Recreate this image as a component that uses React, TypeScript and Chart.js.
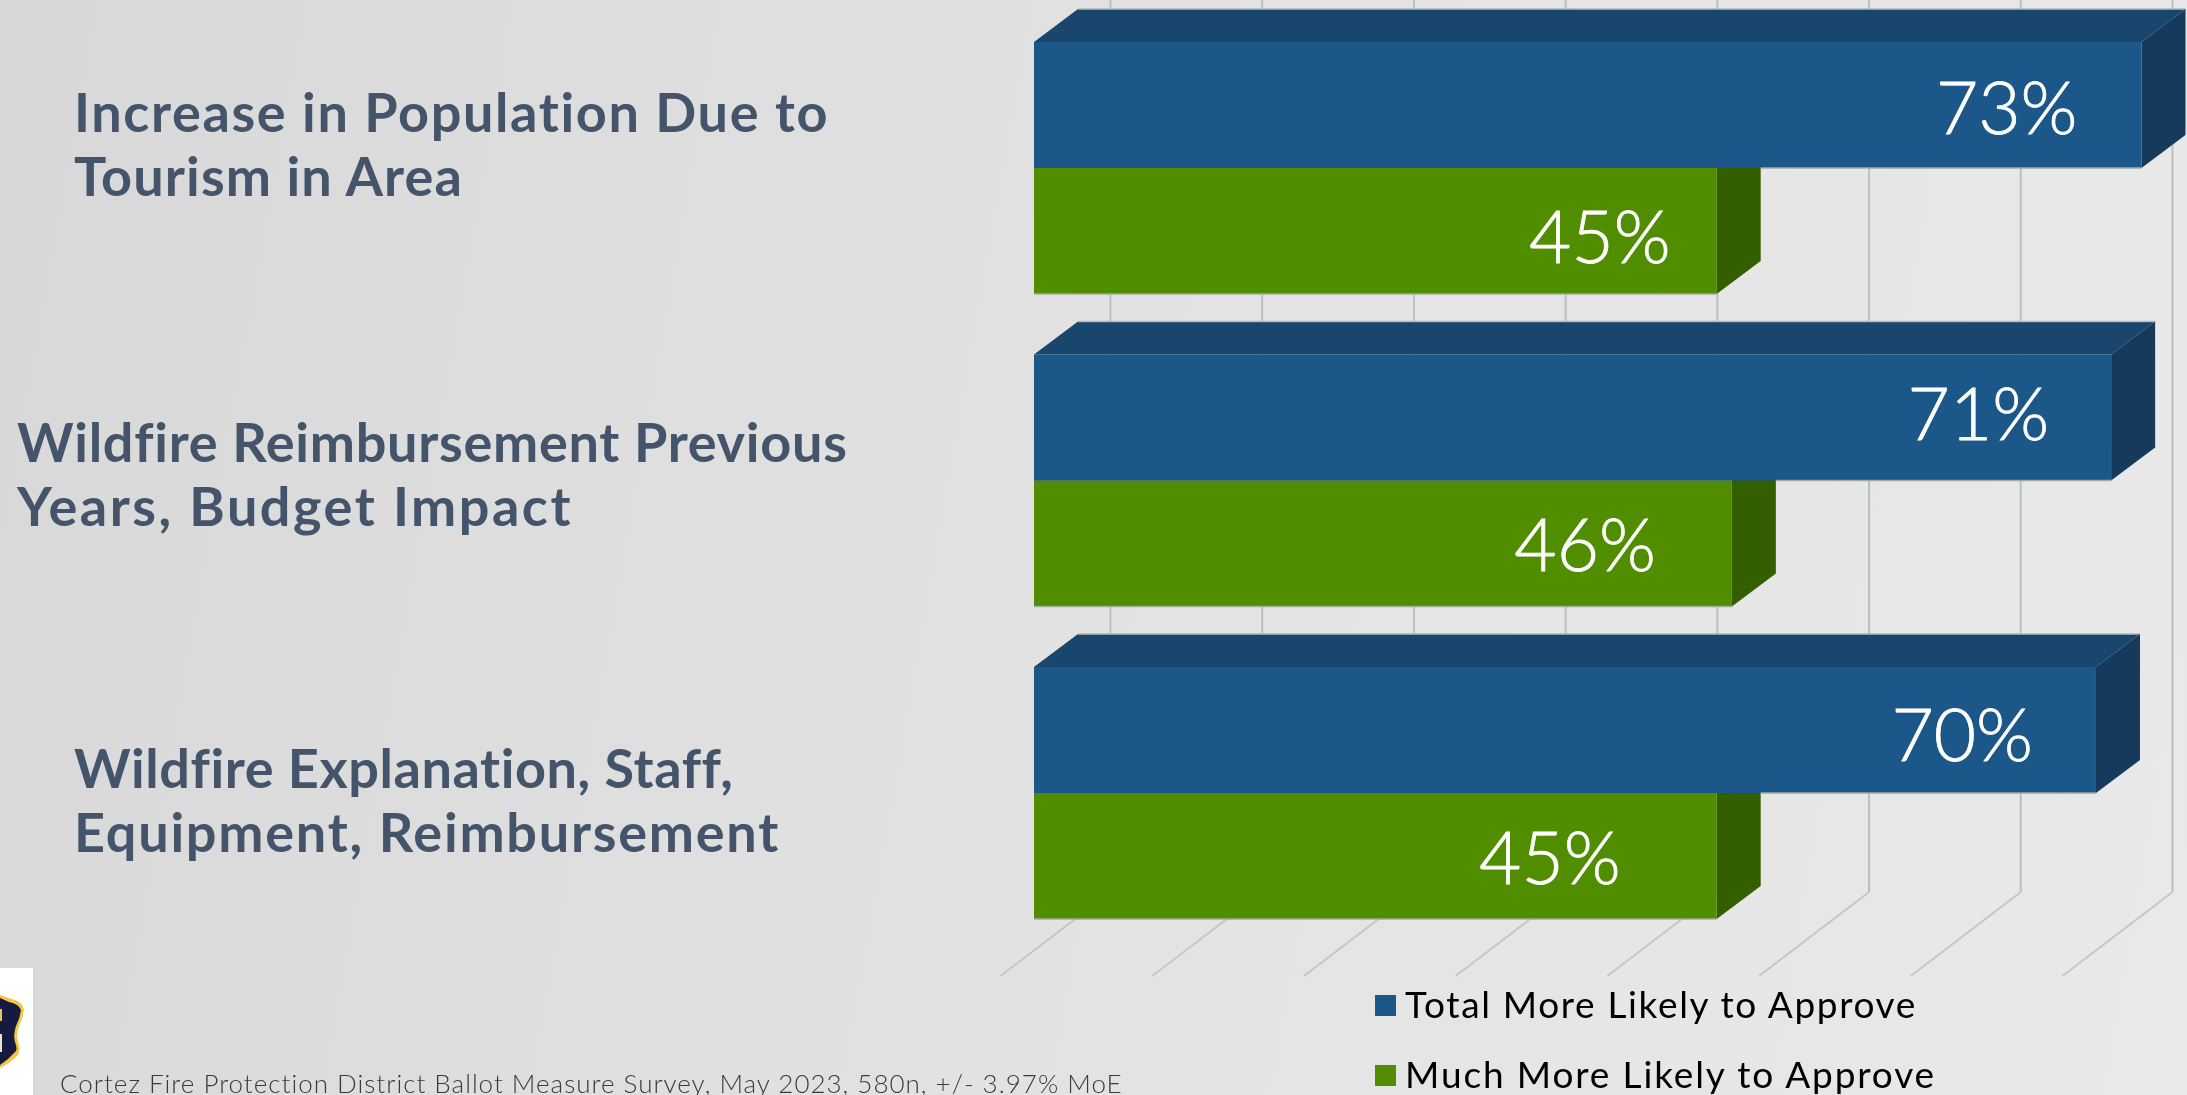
import React, { useEffect, useRef } from "react";
import { Chart, registerables } from "chart.js";

Chart.register(...registerables);

const categories = [
  ["Increase in Population Due to", "Tourism in Area"],
  ["Wildfire Reimbursement Previous", "Years, Budget Impact"],
  ["Wildfire Explanation, Staff,", "Equipment, Reimbursement"],
];
const totalMoreLikely = [73, 71, 70];
const muchMoreLikely = [45, 46, 45];
const seriesNames = ["Total More Likely to Approve", "Much More Likely to Approve"];
const footnote = "Cortez Fire Protection District Ballot Measure Survey, May 2023, 580n, +/- 3.97% MoE";

const W = 2187;
const H = 1095;
const BLUE = ["#1B5788", "#18466D", "#153A5B"];
const GREEN = ["#508E00", "#46790A", "#345F00"];
const DEPTH_X = 44;
const DEPTH_Y = 33;
const GRID_SHIFT = 76.5;
const GRID_FLOOR_Y = 892;
const FLOOR_DX = 110;
const FLOOR_END_Y = 976;
const CAT_X = [74, 17, 74];
const CAT_Y = [132, 462, 788];
const CAT_LINE = 64;
const CAT_WIDTHS = [
  [756, 389],
  [830, 556],
  [658, 706],
];
const LEGEND_WIDTHS = [512, 531];
const FOOT_WIDTH = 1063;
const LABEL_INSET = [
  [64, 62, 63],
  [46, 76, 96],
];
const LABEL_DY = [
  [5, -1, 7],
  [8, 4, 4],
];

function fitText(ctx: any, text: string, x: number, y: number, width: number) {
  ctx.letterSpacing = "0px";
  ctx.fontKerning = "normal";
  const measured = ctx.measureText(text).width;
  ctx.letterSpacing = (width - measured) / text.length + "px";
  ctx.fillText(text, x, y);
  ctx.letterSpacing = "0px";
}

const threeD = {
  id: "threeD",
  beforeDatasetsDraw(chart: any) {
    const { ctx, scales } = chart;
    const x = scales.x;
    ctx.save();
    x.ticks
      .filter((t: any) => t.value % 10 === 0)
      .forEach((t: any) => {
        const gx = x.getPixelForValue(t.value) + GRID_SHIFT;
        ctx.strokeStyle = "#bcbfc2";
        ctx.lineWidth = 2;
        ctx.beginPath();
        ctx.moveTo(gx, 0);
        ctx.lineTo(gx, GRID_FLOOR_Y);
        ctx.stroke();
        ctx.strokeStyle = "#c6c6c6";
        ctx.lineWidth = 2;
        ctx.beginPath();
        ctx.moveTo(gx, GRID_FLOOR_Y);
        ctx.lineTo(gx - FLOOR_DX, FLOOR_END_Y);
        ctx.stroke();
      });
    [1, 0].forEach((ds) => {
      const colors = ds === 0 ? BLUE : GREEN;
      chart.getDatasetMeta(ds).data.forEach((bar: any) => {
        const top = bar.y - bar.height / 2;
        const bottom = bar.y + bar.height / 2;
        const l = bar.base;
        const r = bar.x;
        ctx.fillStyle = colors[1];
        ctx.beginPath();
        ctx.moveTo(l, top);
        ctx.lineTo(l + DEPTH_X, top - DEPTH_Y);
        ctx.lineTo(r + DEPTH_X, top - DEPTH_Y);
        ctx.lineTo(r, top);
        ctx.closePath();
        ctx.fill();
        ctx.strokeStyle = "#b5b8bb";
        ctx.lineWidth = 1.5;
        ctx.beginPath();
        ctx.moveTo(l + DEPTH_X, top - DEPTH_Y);
        ctx.lineTo(r + DEPTH_X, top - DEPTH_Y);
        ctx.stroke();
        ctx.fillStyle = colors[2];
        ctx.beginPath();
        ctx.moveTo(r, top);
        ctx.lineTo(r + DEPTH_X, top - DEPTH_Y);
        ctx.lineTo(r + DEPTH_X, bottom - DEPTH_Y);
        ctx.lineTo(r, bottom);
        ctx.closePath();
        ctx.fill();
      });
    });
    ctx.restore();
  },
  afterDatasetsDraw(chart: any) {
    const { ctx } = chart;
    ctx.save();
    // bottom edge of the front faces, where they meet the background
    const blueBars = chart.getDatasetMeta(0).data;
    const greenBars = chart.getDatasetMeta(1).data;
    ctx.strokeStyle = "#a3a8a3";
    ctx.lineWidth = 1.5;
    blueBars.forEach((bar: any, i: number) => {
      const green = greenBars[i];
      const blueBottom = bar.y + bar.height / 2;
      ctx.beginPath();
      ctx.moveTo(green.x + DEPTH_X, blueBottom);
      ctx.lineTo(bar.x, blueBottom);
      ctx.stroke();
      const greenBottom = green.y + green.height / 2;
      ctx.beginPath();
      ctx.moveTo(green.base, greenBottom);
      ctx.lineTo(green.x, greenBottom);
      ctx.stroke();
    });
    // value labels
    ctx.fillStyle = "#ffffff";
    ctx.strokeStyle = "#ffffff";
    ctx.lineWidth = 0.8;
    ctx.font = "300 73px Lato";
    ctx.textAlign = "right";
    ctx.textBaseline = "middle";
    [0, 1].forEach((ds) => {
      const values = chart.data.datasets[ds].data;
      chart.getDatasetMeta(ds).data.forEach((bar: any, i: number) => {
        const tx = bar.x - LABEL_INSET[ds][i];
        const ty = bar.y + LABEL_DY[ds][i];
        ctx.fillText(values[i] + "%", tx, ty);
        ctx.strokeText(values[i] + "%", tx, ty);
      });
    });
    // category labels
    ctx.textAlign = "left";
    ctx.textBaseline = "alphabetic";
    ctx.fillStyle = "#44546A";
    ctx.font = "700 54px Lato";
    (chart.data.labels as string[][]).forEach((lines, i) => {
      lines.forEach((line, j) => fitText(ctx, line, CAT_X[i], CAT_Y[i] + j * CAT_LINE, CAT_WIDTHS[i][j]));
    });
    // legend
    ctx.font = "400 37px Lato";
    chart.data.datasets.forEach((d: any, i: number) => {
      const y = 995 + i * 70;
      ctx.fillStyle = d.backgroundColor;
      ctx.fillRect(1375, y, 21, 21);
      ctx.fillStyle = "#000000";
      fitText(ctx, d.label, 1405, y + 23, LEGEND_WIDTHS[i]);
    });
    // footnote
    ctx.font = "300 26px Lato";
    ctx.fillStyle = "#3a3a3a";
    fitText(ctx, footnote, 60, 1093, FOOT_WIDTH);
    // logo
    ctx.fillStyle = "#ffffff";
    ctx.fillRect(0, 968, 33, 127);
    const shield = (inset: number, fill: string) => {
      ctx.fillStyle = fill;
      ctx.beginPath();
      ctx.moveTo(0, 995 + inset);
      ctx.lineTo(12 - inset, 999 + inset);
      ctx.quadraticCurveTo(22 - inset, 1001 + inset, 24 - inset, 1010);
      ctx.quadraticCurveTo(23 - inset, 1018, 19 - inset, 1026);
      ctx.quadraticCurveTo(16 - inset, 1035, 18 - inset, 1042);
      ctx.quadraticCurveTo(21 - inset, 1050, 18 - inset, 1055 - inset);
      ctx.quadraticCurveTo(12 - inset, 1062 - inset, 0, 1068 - inset);
      ctx.closePath();
      ctx.fill();
    };
    shield(0, "#F2C744");
    shield(3, "#161A3E");
    ctx.fillStyle = "#E8C64F";
    ctx.fillRect(0, 1009, 2, 12);
    ctx.fillStyle = "#E9E4D2";
    ctx.fillRect(0, 1034, 2, 18);
    ctx.restore();
  },
};

export default function App() {
  const ref = useRef<HTMLCanvasElement>(null);
  useEffect(() => {
    const chart = new Chart(ref.current as HTMLCanvasElement, {
      type: "bar",
      data: {
        labels: categories as any,
        datasets: [
          { label: seriesNames[0], data: totalMoreLikely, backgroundColor: BLUE[0] },
          { label: seriesNames[1], data: muchMoreLikely, backgroundColor: GREEN[0] },
        ],
      },
      options: {
        indexAxis: "y",
        animation: false,
        responsive: false,
        maintainAspectRatio: false,
        categoryPercentage: 0.806,
        barPercentage: 1,
        layout: { padding: { left: 1034, right: 0, top: 11.75, bottom: 145.75 } },
        plugins: { legend: { display: false }, tooltip: { enabled: false } },
        scales: {
          x: { display: false, min: 0, max: 76, ticks: { stepSize: 10 } },
          y: { display: false },
        },
      } as any,
      plugins: [threeD],
    });
    return () => chart.destroy();
  }, []);
  return (
    <div
      style={{
        position: "fixed",
        left: 0,
        top: 0,
        width: W,
        height: H,
        overflow: "hidden",
        background: "linear-gradient(100deg,#d8d8d8 0%,#dfdfdf 35%,#e4e4e4 60%,#e9e9e9 100%)",
      }}
    >
      <canvas ref={ref} width={W} height={H} style={{ display: "block" }} />
    </div>
  );
}
